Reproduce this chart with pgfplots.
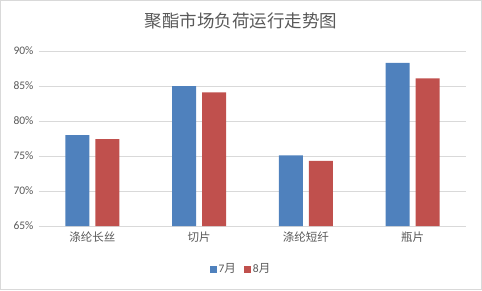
\documentclass[border=0pt]{standalone}
\usepackage{pgfplots}
\pgfplotsset{compat=1.18}
\usepackage{fontspec}
\setmainfont{Carlito}
\newfontfamily\cjk{Noto Sans CJK SC}
\definecolor{cblue}{HTML}{4F81BD}
\definecolor{cred}{HTML}{C0504D}
\definecolor{cgrid}{HTML}{D9D9D9}
\definecolor{ctext}{HTML}{595959}
\begin{document}
\begin{tikzpicture}
\begin{axis}[
  name=ax,
  scale only axis,
  width=427pt, height=175pt,
  ybar=6pt, bar width=24pt,
  xmin=-0.5, xmax=3.5,
  ymin=65, ymax=90,
  ytick={65,70,75,80,85,90},
  yticklabel={\pgfmathprintnumber{\tick}\%},
  /pgf/number format/assume math mode=true,
  xtick=data,
  xticklabels={{\cjk 涤纶长丝},{\cjk 切片},{\cjk 涤纶短纤},{\cjk 瓶片}},
  ticklabel style={font=\fontsize{11.5}{13}\selectfont, text=ctext},
  x tick label style={yshift=-2pt},
  y tick label style={xshift=-2pt},
  major tick length=0pt,
  ymajorgrids, grid style={cgrid, line width=0.8pt},
  axis x line*=bottom, axis y line*=left,
  x axis line style={cgrid, line width=0.8pt, -},
  y axis line style={draw=none},
  legend style={at={(axis description cs:0.473,-0.246)}, anchor=center, draw=none,
    font=\fontsize{11.5}{13}\selectfont, text=ctext, legend columns=2,
    /tikz/every even column/.append style={column sep=6pt}},
  legend image code/.code={\fill[#1] (0pt,-3.5pt) rectangle (7pt,3.5pt);},
]
\addplot[fill=cblue, draw=none] coordinates {(0,78.0) (1,85.0) (2,75.1) (3,88.3)};
\addplot[fill=cred, draw=none] coordinates {(0,77.4) (1,84.1) (2,74.3) (3,86.1)};
\legend{{7\cjk 月},{8\cjk 月}}
\end{axis}
\node[font=\cjk\fontsize{17.5}{20}\selectfont, text=ctext] at ([shift={(202pt,30pt)}]ax.north west) {聚酯市场负荷运行走势图};
\draw[cgrid, line width=1pt] ([shift={(-38.5pt,-63.5pt)}]ax.south west) rectangle ([shift={(442.5pt,225.5pt)}]ax.south west);
\end{tikzpicture}
\end{document}
